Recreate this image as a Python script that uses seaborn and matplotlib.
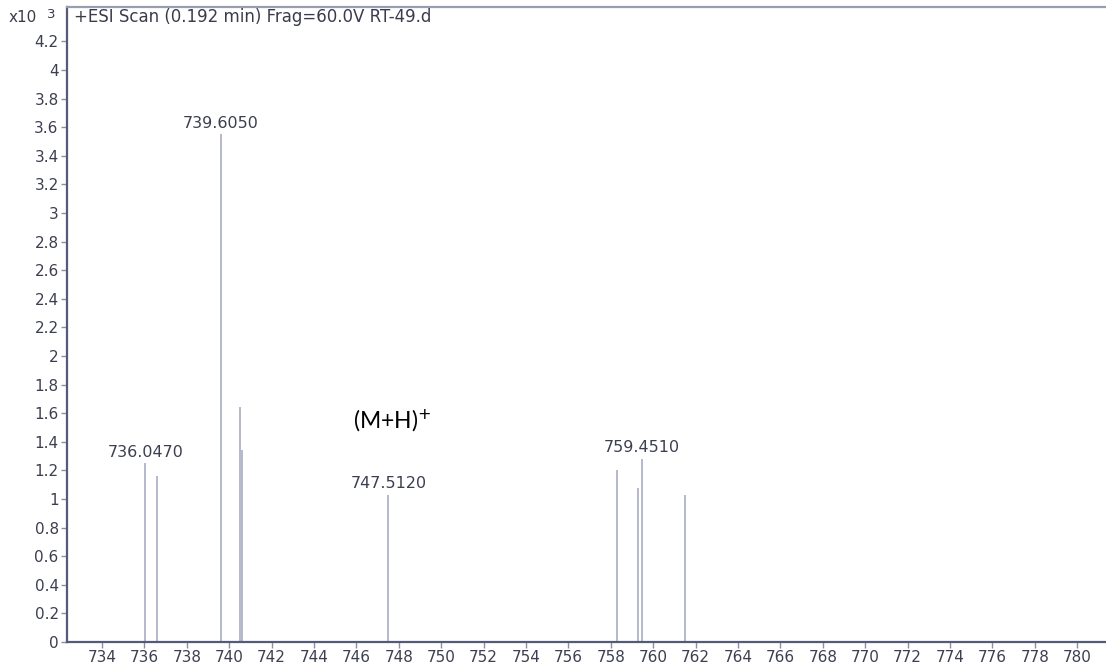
import matplotlib
matplotlib.use("Agg")
import matplotlib.pyplot as plt
import seaborn as sns
import numpy as np

# ---- data ----
peak_mz = [736.05, 736.59, 739.605, 740.50, 740.60, 747.512, 758.29, 759.28, 759.451, 761.52]
peak_int = [1.25, 1.16, 3.55, 1.64, 1.34, 1.03, 1.20, 1.08, 1.28, 1.03]
label_mz = [736.047, 739.605, 747.512, 759.451]
label_int = [1.25, 3.55, 1.03, 1.28]
label_txt = ["736.0470", "739.6050", "747.5120", "759.4510"]
x_ticks = list(range(734, 781, 2))
y_ticks = [0, 0.2, 0.4, 0.6, 0.8, 1, 1.2, 1.4, 1.6, 1.8, 2, 2.2, 2.4, 2.6, 2.8, 3,
           3.2, 3.4, 3.6, 3.8, 4, 4.2]
title_txt = "+ESI Scan (0.192 min) Frag=60.0V RT-49.d"

sns.set_style("ticks")
plt.rcParams['font.family'] = ['DejaVu Sans']

fig = plt.figure(figsize=(11.06, 6.65), dpi=100)
ax = fig.add_axes([67/1106, 1-642/665, 1-67/1106, (642-7)/665])

peak_col = "#a9adc2"
axis_col = "#555a78"
text_col = "#3c3f50"

ax.vlines(peak_mz, 0, peak_int, colors=peak_col, linewidth=1.2)
for x, y, t in zip(label_mz, label_int, label_txt):
    ax.annotate(t, (x, y), xytext=(0, 2.5), textcoords="offset points",
                ha="center", va="bottom", fontsize=11.5, color=text_col)

ax.set_xlim(732.35, 781.36)
ax.set_ylim(0, 4.44)
ax.set_xticks(x_ticks)
ax.set_xticklabels([str(v) for v in x_ticks])
ax.set_yticks(y_ticks)
ax.set_yticklabels(["%g" % v for v in y_ticks])
ax.tick_params(axis="both", direction="out", length=4, width=1, color="#8a8ea6",
               labelsize=11, labelcolor=text_col, pad=2)

for s in ["left", "bottom"]:
    ax.spines[s].set_color(axis_col)
    ax.spines[s].set_linewidth(1.6)
ax.spines["top"].set_color("#9a9db2")
ax.spines["top"].set_linewidth(1.6)
ax.spines["right"].set_visible(False)

ax.text(7/1039, 1-10/635, title_txt, transform=ax.transAxes, ha="left", va="center",
        fontsize=12, color="#3a3c4c")

fig.text(9/1106, 1-18/665, "x10", ha="left", va="center", fontsize=11, color="#3a3c4c")
fig.text(47/1106, 1-14/665, "3", ha="left", va="center", fontsize=9.5, color="#3a3c4c")

ax.text(745.84, 1.545, "(M+H)$^{+}$", ha="left", va="center", fontsize=16.5,
        color="black", family=["Lato", "DejaVu Sans"])

fig.savefig("out.png", dpi=100)
